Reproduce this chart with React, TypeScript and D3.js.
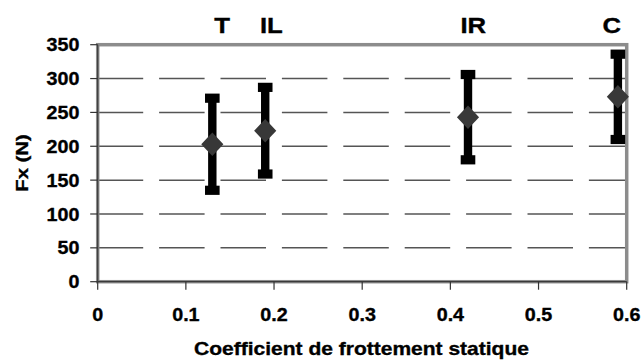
import React from "react";
import * as d3 from "d3";

const categories = ["T", "IL", "IR", "C"];
const xValues = [0.13, 0.19, 0.42, 0.59];
const meanFx = [203, 223, 243, 273];
const errFx = [68, 64, 63, 63];
const labelX = [0.141, 0.197, 0.426, 0.583];
const yTicks = [0, 50, 100, 150, 200, 250, 300, 350];
const xTicks = [0, 0.1, 0.2, 0.3, 0.4, 0.5, 0.6];
const xTitle = "Coefficient de frottement statique";
const yTitle = "Fx (N)";

const W = 642;
const H = 363;
const plot = { left: 97.7, right: 626.7, top: 44.7, bottom: 281.7 };
const FONT = "Arial, 'Liberation Sans', Helvetica, sans-serif";

export default function App() {
  const x = d3.scaleLinear().domain([0, 0.6]).range([plot.left, plot.right]);
  const y = d3.scaleLinear().domain([0, 350]).range([plot.bottom, plot.top]);
  const diamond = d3.symbol().type(d3.symbolDiamond2).size(2 * 12.5 * 12.5)();
  const fmt = (v: number) => (v === 0 ? "0" : d3.format(".1f")(v));

  return (
    <svg
      width={W}
      height={H}
      style={{ position: "absolute", left: 0, top: 0, background: "#fff" }}
      fontFamily={FONT}
      fontWeight="bold"
    >
      <rect x={0} y={0} width={W} height={H} fill="#fff" />
      {/* gridlines */}
      {yTicks
        .filter((t) => t > 0 && t < 350)
        .map((t) => (
          <line
            key={"g" + t}
            x1={plot.left}
            x2={plot.right}
            y1={y(t)}
            y2={y(t)}
            stroke="#555"
            strokeWidth={1.5}
            strokeDasharray="45.5 15.9"
          />
        ))}
      {/* plot border */}
      <rect
        x={plot.left}
        y={plot.top}
        width={plot.right - plot.left}
        height={plot.bottom - plot.top}
        fill="none"
        stroke="#8c8c8c"
        strokeWidth={3.5}
      />
      {/* axis lines */}
      <line x1={plot.left} x2={plot.left} y1={plot.top} y2={plot.bottom} stroke="#3a3a3a" strokeWidth={1.2} />
      <line x1={plot.left} x2={plot.right} y1={plot.bottom} y2={plot.bottom} stroke="#3a3a3a" strokeWidth={1.2} />
      <g stroke="#000" strokeWidth={0.35} fill="#000">
        {/* y ticks */}
        {yTicks.map((t) => (
          <g key={"y" + t}>
            <line x1={plot.left - 7.5} x2={plot.left} y1={y(t)} y2={y(t)} stroke="#333" strokeWidth={1.2} />
            <text
              transform={`translate(79.5,${y(t) + 6.6}) scale(1.06,1)`}
              textAnchor="end"
              fontSize={18.6}
            >
              {t}
            </text>
          </g>
        ))}
        {/* x ticks */}
        {xTicks.map((t) => (
          <g key={"x" + t}>
            <line x1={x(t)} x2={x(t)} y1={plot.bottom} y2={plot.bottom + 8} stroke="#333" strokeWidth={1.2} />
            <text
              transform={`translate(${x(t)},321) scale(1.06,1)`}
              textAnchor="middle"
              fontSize={18.6}
            >
              {fmt(t)}
            </text>
          </g>
        ))}
        {/* category labels */}
        {categories.map((c, i) => (
          <text
            key={"c" + c}
            transform={`translate(${x(labelX[i])},33.3) scale(1.12,1)`}
            textAnchor="middle"
            fontSize={23}
          >
            {c}
          </text>
        ))}
        {/* axis titles */}
        <text
          transform={`translate(361.5,355) scale(1.13,1)`}
          textAnchor="middle"
          fontSize={18.6}
        >
          {xTitle}
        </text>
        <text
          transform={`translate(28.3,163) rotate(-90) scale(1.18,1)`}
          textAnchor="middle"
          fontSize={17.2}
        >
          {yTitle}
        </text>
      </g>
      {/* error bars */}
      {xValues.map((xv, i) => {
        const cx = x(xv);
        const yTop = y(meanFx[i] + errFx[i]);
        const yBot = y(meanFx[i] - errFx[i]);
        return (
          <g key={"e" + i}>
            <rect x={cx - 4.2} y={yTop} width={8.4} height={yBot - yTop} fill="#000" />
            <rect x={cx - 7.3} y={yTop - 4.6} width={14.6} height={9.2} fill="#000" />
            <rect x={cx - 7.3} y={yBot - 4.6} width={14.6} height={9.2} fill="#000" />
          </g>
        );
      })}
      {/* diamonds */}
      {xValues.map((xv, i) => (
        <path
          key={"d" + i}
          d={diamond || ""}
          transform={`translate(${x(xv)},${y(meanFx[i])}) scale(1,1.06)`}
          fill="#383838"
        />
      ))}
    </svg>
  );
}
